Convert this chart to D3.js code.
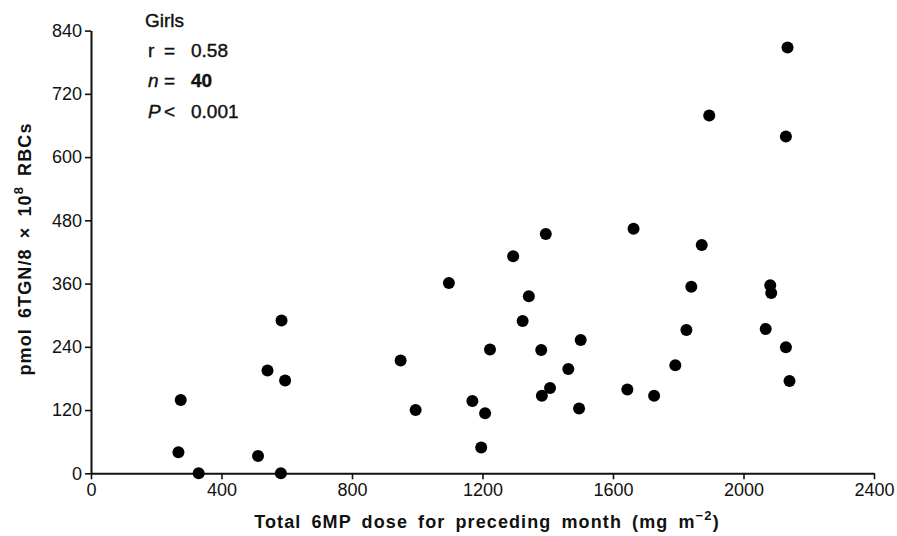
<!DOCTYPE html>
<meta charset="utf-8">
<style>
  body { margin: 0; background: #fff; }
  svg { font-family: "Liberation Sans", Arial, sans-serif; }
  .axis path, .axis line { stroke: #111; }
  .axis path { stroke-width: 2px; }
  .axis line { stroke-width: 1.6px; }
  .axis text { font-size: 18px; fill: #111; }
  .title { font-size: 18px; font-weight: bold; fill: #111; letter-spacing: 1.1px; word-spacing: 4px; }
  .note { font-size: 19px; fill: #111; stroke: #111; stroke-width: 0.4px; }
</style>
<svg width="897" height="536"></svg>
<script src="https://cdn.jsdelivr.net/npm/d3@7"></script>
<script>

// total 6MP dose (mg m-2) and 6TGN level for each girl
var dose = [275, 268, 330, 512, 582, 541, 595, 584,
            949, 995, 1097, 1169, 1208, 1196, 1223, 1294, 1323, 1342,
            1380, 1382, 1407, 1463, 1501, 1496, 1644, 1726, 1791,
            1872, 1840, 1825, 2082, 2085, 2068, 2130, 2141,
            1394, 1663, 2135, 1895, 2130];
var tgn = [139, 40, 0, 33, 0, 195, 176, 290,
           214, 120, 361, 137, 114, 49, 235, 412, 289, 336,
           234, 147, 162, 198, 253, 123, 159, 147, 205,
           433, 354, 272, 357, 342, 274, 239, 175,
           454, 464, 808, 679, 639];

var xTicks = [0, 400, 800, 1200, 1600, 2000, 2400];
var yTicks = [0, 120, 240, 360, 480, 600, 720, 840];

var svg = d3.select("svg");

var x = d3.scaleLinear().domain([0, 2400]).range([91, 874]);
var y = d3.scaleLinear().domain([0, 840]).range([473.3, 30.6]);

svg.append("g")
  .attr("class", "axis")
  .attr("transform", "translate(0," + y(0) + ")")
  .call(d3.axisBottom(x).tickValues(xTicks).tickFormat(d3.format("d"))
    .tickSize(6).tickSizeOuter(0).tickPadding(4));

svg.append("g")
  .attr("class", "axis")
  .attr("transform", "translate(" + x(0) + ",0)")
  .call(d3.axisLeft(y).tickValues(yTicks).tickFormat(d3.format("d"))
    .tickSize(6).tickSizeOuter(0).tickPadding(3));

// points
svg.append("g")
  .selectAll("circle")
  .data(dose)
  .enter().append("circle")
  .attr("cx", function(d) { return x(d); })
  .attr("cy", function(d, i) { return y(tgn[i]); })
  .attr("r", 6)
  .attr("fill", "#000");

// axis titles
var xt = svg.append("text")
  .attr("class", "title")
  .attr("x", 487)
  .attr("y", 528)
  .attr("text-anchor", "middle");
xt.append("tspan").text("Total 6MP dose for preceding month (mg m");
xt.append("tspan").attr("dy", -8).attr("font-size", 13).text("\u22122");
xt.append("tspan").attr("dy", 8).text(")");

var yt = svg.append("text")
  .attr("class", "title")
  .attr("transform", "translate(31,249) rotate(-90)")
  .attr("text-anchor", "middle");
yt.append("tspan").text("pmol 6TGN/8 \u00d7 10");
yt.append("tspan").attr("dy", -8).attr("font-size", 13).text("8");
yt.append("tspan").attr("dy", 8).text(" RBCs");

// stats note
var note = svg.append("g").attr("class", "note");
note.append("text").attr("x", 145).attr("y", 27).text("Girls");

function row(yy, lhs, italic, op, rhs, bold) {
  note.append("text").attr("x", 148).attr("y", yy)
    .attr("font-style", italic ? "italic" : null).text(lhs);
  note.append("text").attr("x", 164).attr("y", yy).text(op);
  note.append("text").attr("x", 191).attr("y", yy)
    .attr("font-weight", bold ? "bold" : null).text(rhs);
}
row(57, "r", false, "=", "0.58", false);
row(87, "n", true, "=", "40", true);
row(118, "P", true, "<", "0.001", false);

</script>
